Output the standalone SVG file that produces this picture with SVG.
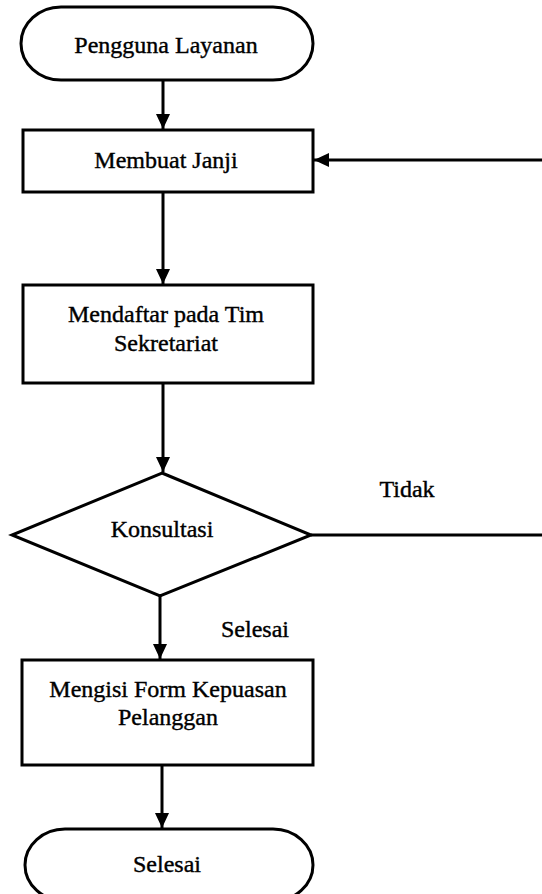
<svg xmlns="http://www.w3.org/2000/svg" width="542" height="894" viewBox="0 0 542 894">
<style>
.s{fill:#fff;stroke:#000;stroke-width:3}
.c{fill:none;stroke:#000;stroke-width:3}
text{font-family:"Liberation Serif","Times New Roman",serif;font-size:24px;fill:#000;stroke:#000;stroke-width:0.4;text-anchor:middle}
</style>
<defs>
<marker id="ah" markerUnits="userSpaceOnUse" markerWidth="16" markerHeight="16" viewBox="0 0 16 16" refX="15" refY="8" orient="auto">
<path d="M0,1 L15,8 L0,15 Z" fill="#000"/>
</marker>
</defs>
<g id="n1"><rect class="s" x="21" y="7" width="292" height="73" rx="40" ry="36.5"/><text x="166" y="53">Pengguna Layanan</text></g>
<g id="n2"><rect class="s" x="23" y="130" width="290" height="62"/><text x="166" y="168">Membuat Janji</text></g>
<g id="n3"><rect class="s" x="23" y="285" width="290" height="98"/><text x="166" y="322">Mendaftar pada Tim</text><text x="166" y="351">Sekretariat</text></g>
<g id="n4"><polygon class="s" points="162,473 311,535 160,596 12,535"/><text x="162" y="537">Konsultasi</text></g>
<g id="n5"><rect class="s" x="22" y="660" width="291" height="105"/><text x="168" y="697">Mengisi Form Kepuasan</text><text x="168" y="725">Pelanggan</text></g>
<g id="n6"><rect class="s" x="25" y="829" width="288" height="72" rx="40" ry="36"/><text x="167" y="872">Selesai</text></g>
<g id="edges">
<path class="c" d="M163,80 V129" marker-end="url(#ah)"/>
<path class="c" d="M163,192 V284" marker-end="url(#ah)"/>
<path class="c" d="M163,383 V472" marker-end="url(#ah)"/>
<path class="c" d="M160,596 V659" marker-end="url(#ah)"/>
<path class="c" d="M162,765 V828" marker-end="url(#ah)"/>
<path class="c" d="M311,535 H542"/>
<path class="c" d="M542,160 H314" marker-end="url(#ah)"/>
<text x="407" y="497">Tidak</text>
<text x="255" y="637">Selesai</text>
</g>
</svg>
